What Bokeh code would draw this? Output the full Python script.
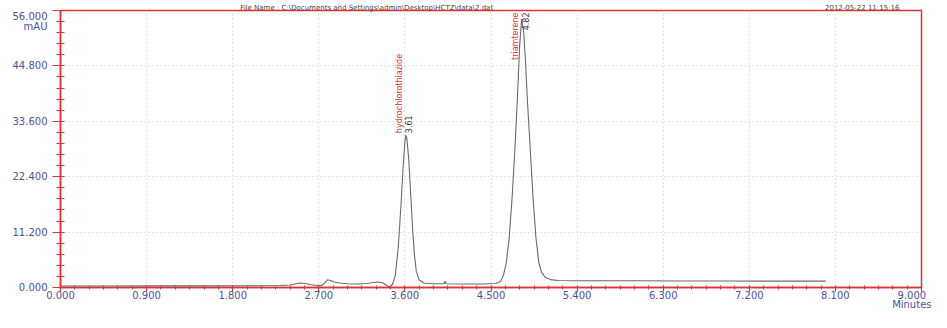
import math
from bokeh.plotting import figure
from bokeh.models import FixedTicker, PrintfTickFormatter, Range1d, LinearAxis
from bokeh.embed import file_html
from bokeh.resources import INLINE
from bokeh.core.properties import value

# ---- data ----
time_min = [0.00, 0.50, 1.00, 1.50, 2.00, 2.30, 2.40, 2.45, 2.50, 2.56,
            2.62, 2.68, 2.73, 2.76, 2.79, 2.82, 2.86, 2.92, 3.00, 3.10,
            3.20, 3.27, 3.32, 3.37, 3.41, 3.44, 3.47, 3.50, 3.53, 3.56,
            3.58, 3.60, 3.61, 3.62, 3.64, 3.66, 3.68, 3.70, 3.72, 3.75,
            3.80, 3.90, 4.01, 4.02, 4.03, 4.20, 4.40, 4.55, 4.60, 4.63,
            4.66, 4.69, 4.72, 4.75, 4.78, 4.80, 4.82, 4.84, 4.86, 4.88,
            4.91, 4.94, 4.97, 5.00, 5.03, 5.07, 5.12, 5.20, 5.40, 6.00,
            6.50, 7.00, 7.50, 8.00]
absorb_mau = [0.30, 0.30, 0.32, 0.33, 0.35, 0.40, 0.50, 0.70, 0.90, 0.80,
              0.55, 0.42, 0.40, 0.90, 1.55, 1.40, 1.10, 0.90, 0.75, 0.70,
              0.80, 1.00, 1.10, 0.90, 0.40, 0.15, 0.60, 2.50, 8.0, 17.0,
              24.0, 29.5, 30.8, 30.2, 26.0, 19.0, 12.0, 6.5, 3.2, 1.5,
              0.90, 0.75, 0.75, 1.30, 0.75, 0.70, 0.72, 0.80, 1.20, 2.50,
              5.0, 10.0, 18.0, 28.0, 40.0, 49.0, 54.2, 52.0, 46.0, 38.0,
              28.0, 18.0, 10.0, 5.0, 3.0, 2.0, 1.6, 1.4, 1.35, 1.35,
              1.30, 1.30, 1.28, 1.28]

x_ticks = [0.0, 0.9, 1.8, 2.7, 3.6, 4.5, 5.4, 6.3, 7.2, 8.1, 9.0]
x_minor = [round(i * 0.15, 2) for i in range(61)]
y_ticks = [0.0, 11.2, 22.4, 33.6, 44.8, 56.0]
y_minor = [round(i * 2.24, 2) for i in range(26)]

peak_names = ["hydrochlorothiazide", "triamterene"]
peak_times = [3.61, 4.82]
peak_heights = [30.8, 54.2]
peak_rt_labels = ["3.61", "4.82"]

header_file = "File Name : C:\\Documents and Settings\\admin\\Desktop\\HCTZ\\data\\2.dat"
header_date = "2012-05-22 11:15:16"
x_unit = "Minutes"
y_unit = "mAU"

# ---- styling ----
RED = "#dd3333"
BLUE = "#50509e"
FONT = "DejaVu Sans"
HEADER_POS = [3.2, 8.38]   # centre of the header texts along the time axis

p = figure(width=931, height=312,
           x_range=Range1d(x_ticks[0], x_ticks[-1]),
           y_range=Range1d(y_ticks[0], y_ticks[-1]),
           output_backend="svg", toolbar_location=None,
           min_border_left=60, min_border_right=10,
           min_border_top=0, min_border_bottom=0)

p.background_fill_color = "white"
p.border_fill_color = "white"
p.outline_line_color = RED
p.outline_line_width = 1.5

p.xaxis.ticker = FixedTicker(ticks=x_ticks, minor_ticks=x_minor)
p.yaxis.ticker = FixedTicker(ticks=y_ticks, minor_ticks=y_minor)
p.xaxis.formatter = PrintfTickFormatter(format="%.3f")
p.yaxis.formatter = PrintfTickFormatter(format="%.3f")
# unit names shown under the last tick labels (as in the instrument print-out)
p.xaxis.major_label_overrides = {x_ticks[-1]: "%.3f\n%s" % (x_ticks[-1], x_unit)}
p.yaxis.major_label_overrides = {y_ticks[-1]: " \n%.3f\n%s" % (y_ticks[-1], y_unit)}

for ax in (p.xaxis, p.yaxis):
    ax.axis_line_color = RED
    ax.axis_line_width = 1.5
    ax.major_tick_line_color = RED
    ax.minor_tick_line_color = RED
    ax.major_tick_line_width = 1.2
    ax.major_label_text_color = BLUE
    ax.major_label_text_font = FONT
    ax.major_label_text_font_size = "10px"

p.xaxis.major_label_text_line_height = 0.85
p.yaxis.major_label_text_line_height = 0.95

p.xaxis.major_tick_out = 4
p.xaxis.major_tick_in = 2
p.xaxis.minor_tick_out = 2
p.xaxis.minor_tick_in = 2
p.xaxis.major_label_standoff = -2

p.yaxis.major_tick_out = 8
p.yaxis.major_tick_in = 0
p.yaxis.minor_tick_out = 4
p.yaxis.minor_tick_in = 4
p.yaxis.major_label_standoff = 5

for g in (p.xgrid, p.ygrid):
    g.grid_line_color = "#c8c8c8"
    g.grid_line_dash = "1 3"
    g.grid_line_width = 1

# header line above the plot, drawn as an unstyled axis carrying two labels
header_axis = LinearAxis(ticker=FixedTicker(ticks=HEADER_POS),
                         major_label_overrides={HEADER_POS[0]: header_file,
                                                HEADER_POS[1]: header_date})
header_axis.axis_line_color = None
header_axis.major_tick_line_color = None
header_axis.minor_tick_line_color = None
header_axis.major_tick_out = 0
header_axis.major_tick_in = 0
header_axis.minor_tick_out = 0
header_axis.minor_tick_in = 0
header_axis.major_label_standoff = -1
header_axis.major_label_text_font = FONT
header_axis.major_label_text_font_size = "7px"
header_axis.major_label_text_line_height = 1.0
header_axis.major_label_text_color = "#444444"
p.add_layout(header_axis, "above")

# chromatogram trace
p.line(time_min, absorb_mau, line_color="#6a6a6a", line_width=1.1)

# peak annotations (rotated)
p.text(x=[peak_times[0]], y=[peak_heights[0]], text=[peak_names[0]],
       angle=math.pi / 2, text_align="left", text_baseline="middle",
       x_offset=-6, y_offset=-2, text_color="#e03030",
       text_font=value(FONT), text_font_size="8px")
p.text(x=[peak_times[0]], y=[peak_heights[0]], text=[peak_rt_labels[0]],
       angle=math.pi / 2, text_align="left", text_baseline="middle",
       x_offset=3, y_offset=-2, text_color="#333333",
       text_font=value(FONT), text_font_size="8px")
p.text(x=[peak_times[1]], y=[y_ticks[-1]], text=[peak_names[1]],
       angle=math.pi / 2, text_align="right", text_baseline="middle",
       x_offset=-6, y_offset=2, text_color="#e03030",
       text_font=value(FONT), text_font_size="8px")
p.text(x=[peak_times[1]], y=[y_ticks[-1]], text=[peak_rt_labels[1]],
       angle=math.pi / 2, text_align="right", text_baseline="middle",
       x_offset=4, y_offset=2, text_color="#333333",
       text_font=value(FONT), text_font_size="8px")

open("out.html", "w").write(file_html(p, INLINE))
